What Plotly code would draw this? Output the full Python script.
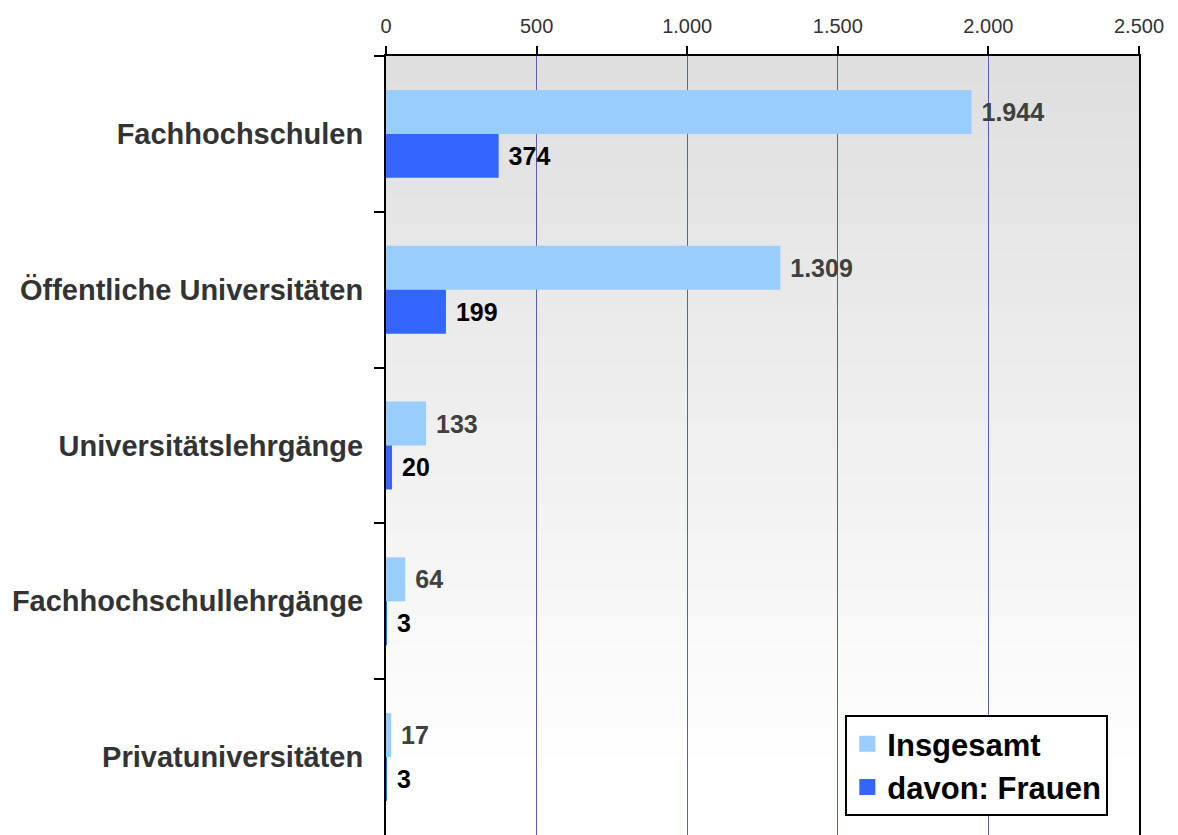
import plotly.graph_objects as go

categories = ["Fachhochschulen", "Öffentliche Universitäten", "Universitätslehrgänge",
              "Fachhochschullehrgänge", "Privatuniversitäten"]
insgesamt = [1944, 1309, 133, 64, 17]
frauen = [374, 199, 20, 3, 3]
x_ticks = [0, 500, 1000, 1500, 2000, 2500]

font_family = "Liberation Sans, Arial, sans-serif"
colors = ["#99ccff", "#3366ff"]
label_colors = ["#404040", "#000000"]
names = ["Insgesamt", "davon: Frauen"]

fig = go.Figure()
for name, vals, col, lcol in zip(names, [insgesamt, frauen], colors, label_colors):
    fig.add_trace(go.Bar(name=name, y=categories, x=vals, orientation="h",
                         marker=dict(color=col, line=dict(width=0)),
                         texttemplate="\u00a0%{x:,.0f}", textposition="outside",
                         textfont=dict(family=font_family, size=25, color=lcol, weight="bold"),
                         cliponaxis=False, showlegend=False))

# legend entries with bigger square swatches
for name, col in zip(names, colors):
    fig.add_trace(go.Scatter(name=name, x=[None], y=[None], mode="markers",
                             marker=dict(symbol="square", size=16, color=col)))

# grey-to-white background gradient in steps
n_steps = 26
for i in range(n_steps):
    top = 1 - i * 28 / 779
    bottom = 1 - (i + 1) * 28 / 779
    c = int(round(223 + (255 - 223) * i / (n_steps - 1)))
    fig.add_shape(type="rect", xref="x domain", yref="y domain",
                  x0=0, x1=1, y0=bottom, y1=top, layer="below",
                  line=dict(width=0), fillcolor=f"rgb({c},{c},{c})")

# page body has an 8px margin, so the figure is a bit smaller than the window
fig.update_layout(
    width=1170, height=827,
    margin=dict(l=378, r=39, t=48, b=0, autoexpand=False),
    paper_bgcolor="white", plot_bgcolor="white",
    separators=",.",
    barmode="group", bargap=0.436, bargroupgap=0,
    font=dict(family=font_family),
    legend=dict(x=0.61, y=0.154, xanchor="left", yanchor="top",
                bgcolor="white", bordercolor="black", borderwidth=2,
                font=dict(family=font_family, size=31, color="black", weight="bold"),
                itemsizing="trace", itemwidth=30, traceorder="normal"),
)
fig.update_xaxes(side="top", range=[0, 2500], tickvals=x_ticks, tickformat=",.0f",
                 showgrid=True, gridcolor="#5c5cb0", gridwidth=1, zeroline=False,
                 showline=True, linecolor="black", linewidth=2,
                 ticks="outside", ticklen=8, tickwidth=2, tickcolor="black",
                 ticklabelstandoff=5, automargin=False,
                 tickfont=dict(family=font_family, size=20, color="#333333"))
fig.update_yaxes(autorange="reversed", showgrid=False, zeroline=False,
                 showline=True, linecolor="black", linewidth=2, mirror=True,
                 ticks="outside", tickson="boundaries", ticklen=10, tickwidth=2, tickcolor="black",
                 ticklabelstandoff=15, automargin=False,
                 tickfont=dict(family=font_family, size=29, color="#333333", weight="bold"))

fig.write_html("out.html")
